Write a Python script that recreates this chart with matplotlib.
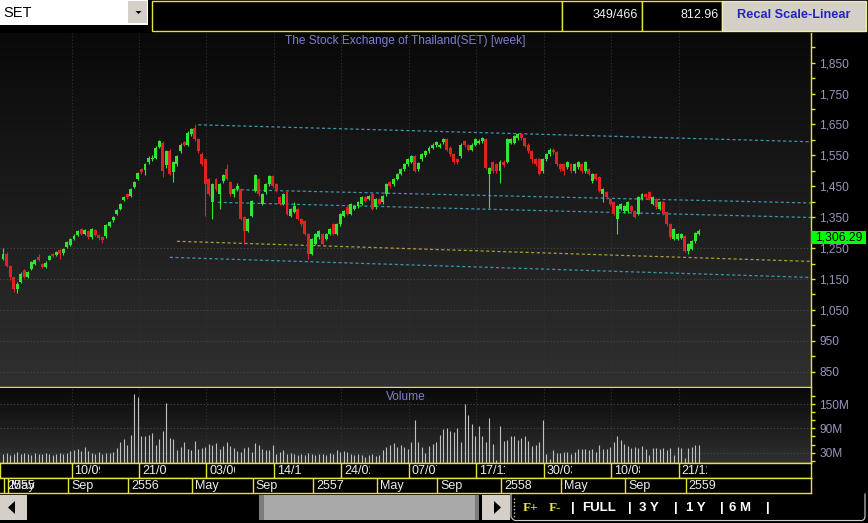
import numpy as np
import matplotlib
matplotlib.use('Agg')
import matplotlib.pyplot as plt
from matplotlib.patches import Rectangle, Polygon
from matplotlib.colors import LinearSegmentedColormap
from matplotlib.transforms import Bbox, TransformedBbox, blended_transform_factory

plt.rcParams['font.family'] = ['Liberation Sans', 'DejaVu Sans']

# ---- weekly SET candles (first bar = week of 30/04/2012) ----
opens = [1215,1231,1192,1155,1118,1140,1178,1158,1182,1200,
         1222,1198,1190,1213,1230,1227,1243,1233,1253,1260,
         1280,1292,1311,1295,1305,1285,1308,1292,1285,1288,
         1321,1340,1360,1376,1405,1424,1420,1447,1473,1505,
         1502,1527,1537,1543,1578,1590,1520,1563,1495,1521,
         1563,1592,1585,1618,1640,1602,1556,1537,1473,1398,
         1473,1424,1466,1505,1463,1424,1440,1440,1350,1305,
         1353,1434,1473,1392,1430,1456,1482,1456,1414,1392,
         1430,1353,1366,1376,1344,1337,1295,1231,1263,1285,
         1295,1279,1295,1327,1295,1327,1353,1382,1360,1376,
         1385,1392,1415,1408,1424,1382,1408,1398,1424,1463,
         1456,1473,1489,1505,1521,1530,1547,1505,1537,1550,
         1563,1575,1582,1578,1592,1602,1575,1553,1537,1547,
         1595,1582,1569,1585,1590,1595,1602,1489,1527,1521,
         1498,1530,1530,1590,1590,1605,1618,1605,1585,1563,
         1537,1537,1498,1537,1553,1569,1560,1521,1521,1511,
         1521,1498,1511,1521,1498,1505,1466,1489,1479,1424,
         1430,1408,1398,1344,1376,1369,1369,1385,1369,1360,
         1408,1424,1430,1392,1408,1376,1398,1366,1327,1279,
         1279,1282,1289,1240,1247,1272,1295]
closes = [1231,1192,1155,1118,1134,1166,1158,1172,1205,1212,
          1212,1188,1203,1224,1224,1237,1230,1247,1269,1280,
          1290,1305,1295,1308,1285,1311,1292,1282,1277,1324,
          1334,1350,1373,1392,1415,1415,1440,1463,1492,1495,
          1521,1543,1543,1575,1595,1500,1563,1490,1527,1547,
          1585,1585,1624,1634,1602,1563,1521,1456,1424,1456,
          1440,1456,1485,1473,1424,1440,1450,1344,1305,1344,
          1402,1485,1424,1424,1456,1482,1450,1434,1392,1424,
          1360,1376,1385,1344,1327,1295,1231,1279,1295,1305,
          1263,1295,1311,1295,1327,1360,1369,1360,1392,1385,
          1398,1415,1402,1418,1376,1408,1392,1418,1456,1450,
          1473,1489,1505,1521,1537,1547,1500,1524,1553,1563,
          1575,1585,1592,1585,1602,1569,1553,1527,1527,1585,
          1582,1569,1585,1602,1598,1605,1510,1510,1498,1498,
          1530,1518,1602,1602,1612,1618,1605,1580,1563,1537,
          1521,1489,1537,1553,1569,1560,1521,1505,1498,1527,
          1498,1521,1527,1498,1527,1489,1489,1473,1434,1440,
          1414,1392,1360,1385,1392,1385,1398,1369,1350,1414,
          1424,1414,1408,1414,1382,1398,1360,1327,1285,1311,
          1295,1295,1240,1263,1272,1298,1306.29]
highs = [1250,1236,1196,1158,1140,1172,1182,1176,1208,1216,
         1231,1202,1207,1228,1234,1241,1247,1251,1273,1284,
         1294,1309,1315,1312,1309,1315,1312,1296,1289,1328,
         1338,1354,1377,1396,1419,1428,1444,1467,1496,1510,
         1525,1547,1550,1580,1600,1598,1568,1570,1532,1552,
         1590,1597,1628,1640,1650,1606,1560,1541,1477,1460,
         1477,1460,1490,1521,1467,1444,1460,1444,1354,1348,
         1406,1489,1477,1428,1460,1486,1486,1460,1418,1428,
         1434,1380,1398,1380,1348,1341,1299,1283,1299,1309,
         1299,1299,1315,1331,1331,1364,1373,1386,1396,1389,
         1402,1419,1419,1422,1428,1412,1412,1422,1460,1467,
         1477,1493,1509,1525,1541,1551,1551,1528,1557,1567,
         1579,1589,1596,1589,1606,1606,1579,1557,1541,1589,
         1599,1586,1589,1606,1602,1609,1606,1514,1531,1525,
         1534,1534,1606,1606,1616,1622,1622,1609,1589,1567,
         1541,1541,1541,1557,1573,1573,1564,1525,1525,1531,
         1525,1525,1531,1525,1531,1509,1493,1493,1483,1444,
         1434,1412,1402,1389,1396,1389,1402,1389,1373,1418,
         1428,1428,1434,1418,1412,1402,1402,1370,1331,1315,
         1299,1299,1293,1267,1276,1302,1312]
lows = [1212,1188,1148,1108,1105,1136,1152,1154,1178,1196,
        1208,1184,1186,1210,1220,1223,1215,1229,1249,1256,
        1276,1288,1291,1291,1281,1281,1288,1276,1265,1284,
        1317,1336,1356,1372,1401,1408,1416,1443,1469,1490,
        1488,1523,1533,1539,1574,1480,1510,1485,1463,1517,
        1559,1580,1581,1614,1598,1559,1517,1355,1420,1344,
        1436,1376,1462,1469,1420,1415,1436,1340,1263,1301,
        1349,1430,1420,1388,1426,1452,1446,1430,1388,1388,
        1356,1349,1362,1340,1323,1291,1215,1227,1259,1281,
        1259,1275,1291,1291,1291,1323,1349,1356,1356,1372,
        1381,1388,1398,1404,1372,1378,1388,1394,1420,1446,
        1452,1469,1485,1501,1517,1526,1496,1501,1533,1546,
        1559,1571,1578,1574,1588,1565,1549,1523,1523,1543,
        1578,1565,1565,1581,1586,1591,1506,1379,1494,1494,
        1460,1514,1526,1586,1586,1601,1601,1576,1559,1525,
        1517,1485,1494,1533,1549,1556,1517,1501,1485,1507,
        1494,1494,1507,1494,1494,1485,1462,1469,1430,1398,
        1410,1388,1356,1295,1372,1365,1365,1365,1346,1356,
        1404,1410,1404,1388,1378,1372,1356,1323,1281,1275,
        1275,1278,1236,1230,1243,1268,1291]
# volume, million shares
volumes = [27,29,25,28,31,26,29,27,25,30,
           28,26,29,27,25,28,30,26,29,33,
           36,38,34,43,33,29,27,31,28,30,
           29,31,42,56,64,49,73,174,167,71,
           71,73,78,49,64,84,152,66,64,37,
           44,56,39,37,58,39,42,45,52,50,
           54,39,46,56,46,41,33,32,41,44,
           32,54,50,39,37,37,50,28,32,37,
           28,30,28,25,27,24,29,26,25,28,
           27,24,30,26,37,32,33,32,28,25,
           28,25,20,25,28,22,25,37,44,50,
           54,44,49,44,39,56,110,56,44,30,
           46,52,56,73,88,92,83,80,92,56,
           150,123,100,71,96,71,56,115,52,12,
           97,58,61,71,71,61,66,71,58,46,
           49,56,110,28,15,37,30,30,32,32,
           28,32,38,38,38,37,39,32,50,39,
           39,44,56,71,61,52,46,41,44,41,
           46,39,25,41,41,38,41,37,41,25,
           44,41,16,41,44,49,50]
last_price = 1306.29

# date axis (bar index -> label)
date_idx = [19, 38, 57, 76, 95, 114, 133, 152, 171, 190]
date_labels = ['10/09/2555', '21/01/2556', '03/06/2556', '14/10/2556', '24/02/2557',
               '07/07/2557', '17/11/2557', '30/03/2558', '10/08/2558', '21/12/2558']
month_idx = [0, 1, 18, 35, 53, 70, 87, 105, 122, 140, 157, 175, 192]
month_labels = ['2555', 'May', 'Sep', '2556', 'May', 'Sep', '2557', 'May', 'Sep',
                '2558', 'May', 'Sep', '2559']

price_ticks = [850, 950, 1050, 1150, 1250, 1350, 1450, 1550, 1650, 1750, 1850]
price_minor = [900, 1000, 1100, 1200, 1300, 1400, 1500, 1600, 1700, 1800, 1900]
vol_ticks = [30, 90, 150]
vol_minor = [10, 50, 70, 110, 130, 170]

# hand drawn trend lines: (bar index, price) start -> end
trend_x0 = [55, 65.4, 60.6, 49, 47]
trend_p0 = [1649, 1439, 1398, 1272, 1220]
trend_x1 = [227.6, 227.6, 227.6, 227.6, 227.6]
trend_p1 = [1594, 1396, 1349, 1207, 1155]
trend_col = ['#3c94ac', '#3c94ac', '#3c94ac', '#a89c38', '#3c94ac']

# ---- style ----
YEL = '#e4e432'
LAV = '#9696bc'
TITLE = '#7e7ecc'
GREEN = '#30e630'
RED = '#e02222'
W, H = 868, 523
PXB = 3.55  # pixels per bar

fig = plt.figure(figsize=(W / 100, H / 100), dpi=100, facecolor='black')


def px_axes(x0, y0, x1, y1, z=1):
    return fig.add_axes([x0 / W, 1 - y1 / H, (x1 - x0) / W, (y1 - y0) / H], zorder=z)


bgmap = LinearSegmentedColormap.from_list('bg', ['#090909', '#303030'])
grad = np.linspace(0, 1, 256).reshape(-1, 1)
n = len(closes)
idx = np.arange(n)
xl = (-3 / PXB, (811 - 3) / PXB)
seps = np.array(date_idx) + 0.3

# ---- window chrome ----
ui = px_axes(0, 0, W, H, z=0)
ui.set_xlim(0, W)
ui.set_ylim(H, 0)
ui.axis('off')
ui.add_patch(Rectangle((0, 0), 148, 25, fc='white', ec='none'))
ui.add_patch(Rectangle((128, 1), 19, 22, fc='#d4d0c8', ec='none'))
ui.add_patch(Polygon([[135.5, 11], [141.5, 11], [138.5, 14]], closed=True, fc='black'))
ui.text(3, 13, 'SET', fontsize=10.5, color='black', va='center')
for a, b in [(152, 562), (562, 642), (642, 722)]:
    ui.add_patch(Rectangle((a, 0.5), b - a, 30, fc='black', ec=YEL, lw=1))
ui.add_patch(Rectangle((722, 0.5), 144, 30, fc='#d4d0c8', ec='#eeeeb0', lw=1))
ui.text(638, 15, '349/466', ha='right', va='center', color='#f0f0f0', fontsize=9)
ui.text(719, 15, '812.96', ha='right', va='center', color='#f0f0f0', fontsize=9)
ui.text(794, 15.5, 'Recal Scale-Linear', ha='center', va='center', color='#2424c4',
        fontsize=9.2, fontweight='bold')

# bottom scroll bar and range buttons
ui.add_patch(Rectangle((0, 495), 27, 25, fc='#d4d0c8', ec='none'))
ui.add_patch(Polygon([[8, 507.5], [15, 501], [15, 514]], closed=True, fc='black'))
ui.add_patch(Rectangle((259, 495), 220, 25, fc='#a9a9a9', ec='none'))
ui.add_patch(Rectangle((259, 495), 5, 25, fc='#7c7c7c', ec='none'))
ui.add_patch(Rectangle((475, 495), 4, 25, fc='#7c7c7c', ec='none'))
ui.add_patch(Rectangle((482, 495), 28, 25, fc='#d4d0c8', ec='none'))
ui.add_patch(Polygon([[494, 501], [494, 514], [501, 507.5]], closed=True, fc='black'))
ui.plot([514, 514], [498, 518], color='#c8c8c8', lw=1, ls=(0, (1, 1.5)))
ui.plot([511, 511, 513, 515, 862, 864, 865, 865], [494, 517, 519.5, 520.5, 520.5, 519.5, 517, 494],
        color='#d0d0d0', lw=0.8)
ui.text(523, 508, 'F+', color='#e8e83a', fontsize=9.5, fontweight='bold', va='center',
        family=['Liberation Serif', 'DejaVu Serif'])
ui.text(549, 508, 'F-', color='#e8e83a', fontsize=9.5, fontweight='bold', va='center',
        family=['Liberation Serif', 'DejaVu Serif'])
for xx, s in [(571, '|'), (582, 'FULL'), (628, '|'), (639, '3 Y'), (674, '|'), (686, '1 Y'),
              (720, '|'), (729, '6 M'), (766, '|')]:
    ui.text(xx, 508, s, color='white', fontsize=9.5, fontweight='bold', va='center')

# ---- price panel ----
ax = px_axes(0, 33, 811, 387, z=2)
ylo, yhi = 800.5, 1946
ax.imshow(grad, cmap=bgmap, aspect='auto', extent=[xl[0], xl[1], ylo, yhi],
          origin='upper', zorder=0)
for v in price_ticks[:5]:
    ax.axhline(v, color='#4a4a4a', lw=0.8, ls=(0, (1, 2)), zorder=1)
for s in seps:
    ax.axvline(s, color='#333333', lw=0.8, ls=(0, (1, 2)), zorder=1)

for a, pa, b, pb, cl in zip(trend_x0, trend_p0, trend_x1, trend_p1, trend_col):
    ax.plot([a, b], [pa, pb], color=cl, lw=0.9, ls=(0, (2.5, 2)), zorder=2)

o = np.array(opens, float)
c = np.array(closes, float)
up = c >= o
cols = np.where(up, GREEN, RED)
ax.vlines(idx, lows, highs, colors=cols, lw=0.8, zorder=3)
ax.bar(idx, np.maximum(np.abs(c - o), 3), bottom=np.minimum(o, c), width=0.82,
       color=cols, lw=0, zorder=4)

ax.set_xlim(*xl)
ax.set_ylim(ylo, yhi)
ax.yaxis.tick_right()
ax.set_yticks(price_ticks)
ax.set_yticklabels([f'{v:,}' for v in price_ticks])
ax.set_yticks(price_minor, minor=True)
ax.tick_params(axis='y', which='both', colors=YEL, labelcolor=LAV, length=3, width=1,
               pad=3, labelsize=8.6)
ax.set_xticks([])
for s in ['top', 'left']:
    ax.spines[s].set_visible(False)
for s in ['right', 'bottom']:
    ax.spines[s].set_color(YEL)
    ax.spines[s].set_linewidth(1)
ax.text(0.5, 0.977, 'The Stock Exchange of Thailand(SET) [week]', transform=ax.transAxes,
        ha='center', va='center', color=TITLE, fontsize=8.6)

tr = blended_transform_factory(ax.transAxes, ax.transData)
ax.add_patch(Rectangle((1.0, last_price), 55 / 811, -44, transform=tr, fc='#00ff00',
                       ec='none', clip_on=False, zorder=10))
ax.text(1.0 + 27.5 / 811, last_price - 21, f'{last_price:,.2f}', transform=tr, ha='center',
        va='center', fontsize=8.8, color='black', clip_on=False, zorder=11)

# ---- volume panel ----
vax = px_axes(0, 388, 811, 463, z=2)
vlo, vhi = 4.6, 189.5
vax.imshow(grad, cmap=bgmap, aspect='auto', extent=[xl[0], xl[1], vlo, vhi],
           origin='upper', zorder=0)
for v in vol_ticks:
    vax.axhline(v, color='#4a4a4a', lw=0.8, ls=(0, (1, 2)), zorder=1)
for s in seps:
    vax.axvline(s, color='#333333', lw=0.8, ls=(0, (1, 2)), zorder=1)
vax.vlines(idx, 0, volumes, colors='#c0c0c0', lw=0.8, zorder=3)
vax.set_xlim(*xl)
vax.set_ylim(vlo, vhi)
vax.yaxis.tick_right()
vax.set_yticks(vol_ticks)
vax.set_yticklabels([f'{v}M' for v in vol_ticks])
vax.set_yticks(vol_minor, minor=True)
vax.tick_params(axis='y', which='both', colors=YEL, labelcolor=LAV, length=3, width=1,
                pad=3, labelsize=8.6)
vax.set_xticks([])
for s in ['top', 'left']:
    vax.spines[s].set_visible(False)
for s in ['right', 'bottom']:
    vax.spines[s].set_color(YEL)
    vax.spines[s].set_linewidth(1)
vax.text(0.5, 0.88, 'Volume', transform=vax.transAxes, ha='center', va='center',
         color=TITLE, fontsize=8.6)

# ---- date rows ----
r1 = px_axes(0, 463, 811, 478, z=2)
r2 = px_axes(0, 478, 811, 493, z=2)
for r in (r1, r2):
    r.set_facecolor('black')
    r.set_xlim(*xl)
    r.set_ylim(0, 1)
    r.set_xticks([])
    r.set_yticks([])
    for s in r.spines.values():
        s.set_color(YEL)
        s.set_linewidth(1)
r2.spines['left'].set_visible(False)

for s, lab in zip(seps, date_labels):
    r1.axvline(s, color=YEL, lw=1)
    t = r1.text(s + 3 / PXB, 0.45, lab, ha='left', va='center', color='#ececec',
                fontsize=9, clip_on=True)
    t.set_clip_box(TransformedBbox(Bbox.from_extents(s, 0, s + 28.5 / PXB, 1), r1.transData))

# first two cells ("2555" and "May") start on neighbouring bars and overlap, as in the source
for m, lab in zip(month_idx, month_labels):
    s = m + 0.3
    r2.axvline(s, color=YEL, lw=1)
    r2.text(s + 3 / PXB, 0.45, lab, ha='left', va='center', color='#ececec', fontsize=9)

fig.savefig('out.png', dpi=100, facecolor='black')
